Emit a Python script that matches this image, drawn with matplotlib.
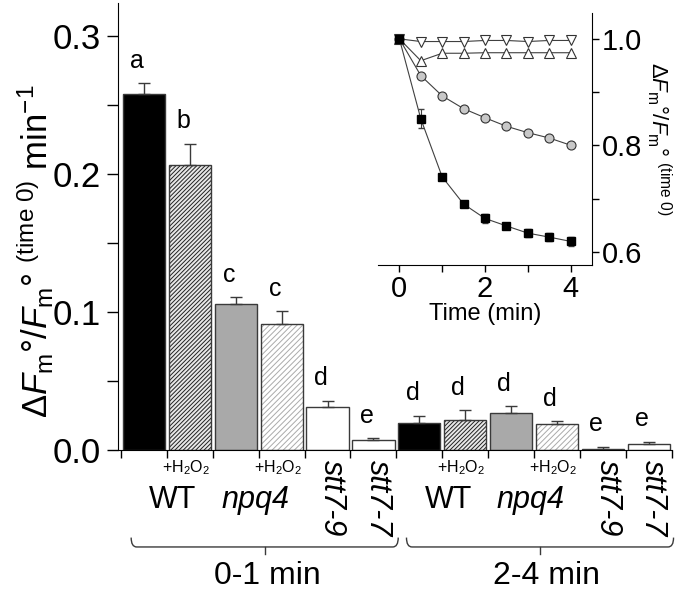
import matplotlib
matplotlib.use('Agg')
import matplotlib.pyplot as plt
from matplotlib.path import Path
from matplotlib.patches import PathPatch

plt.rcParams['font.family'] = ['Liberation Sans', 'DejaVu Sans']
plt.rcParams['mathtext.fontset'] = 'custom'
plt.rcParams['mathtext.rm'] = 'Liberation Sans'
plt.rcParams['mathtext.it'] = 'Liberation Sans:italic'
plt.rcParams['mathtext.bf'] = 'Liberation Sans:bold'
plt.rcParams['hatch.linewidth'] = 0.7

# main bars: 0-1 min group then 2-4 min group
rates = [0.258, 0.2065, 0.1058, 0.0915, 0.0312, 0.0072,
         0.0193, 0.0215, 0.0268, 0.0186, 0.0010, 0.0046]
rate_err = [0.008, 0.0155, 0.0048, 0.0092, 0.0045, 0.0012,
            0.0056, 0.0073, 0.0049, 0.0022, 0.0014, 0.0014]
letters = ['a', 'b', 'c', 'c', 'd', 'e', 'd', 'd', 'd', 'd', 'e', 'e']
strains = ['WT', 'npq4', 'stt7-9', 'stt7-7']
groups = ['0-1 min', '2-4 min']

# inset: relative change vs time
time = [0, 0.5, 1, 1.5, 2, 2.5, 3, 3.5, 4]
stt_down = [1.0, 0.995, 0.995, 0.995, 0.997, 0.997, 0.995, 0.997, 0.997]
stt_up = [1.0, 0.959, 0.973, 0.973, 0.974, 0.974, 0.974, 0.974, 0.974]
npq4_rel = [1.0, 0.931, 0.893, 0.869, 0.852, 0.836, 0.824, 0.814, 0.8005]
wt_rel = [1.0, 0.850, 0.741, 0.690, 0.663, 0.649, 0.6355, 0.628, 0.620]
wt_rel_err = [0.0, 0.018, 0.006, 0.005, 0.008, 0.006, 0.008, 0.008, 0.008]

fig = plt.figure(figsize=(6.75, 5.92), dpi=100)
ax = fig.add_axes([0.1748, 0.2399, 0.821, 0.755])

edge = '#3a3a3a'
styles = [('black', None, None), ('#e8e8e8', '////////', '#222222'),
          ('#a9a9a9', None, None), ('white', '//////', '#aaaaaa'),
          ('white', None, None), ('white', None, None)] * 2

for i, (v, e) in enumerate(zip(rates, rate_err)):
    face, hatch, hcol = styles[i]
    if hatch:
        ax.bar(i, v, width=0.92, color=face, hatch=hatch, edgecolor=hcol, lw=0)
        ax.bar(i, v, width=0.92, fill=False, edgecolor=edge, lw=1.0)
    else:
        ax.bar(i, v, width=0.92, color=face, edgecolor=edge, lw=1.0)
    ax.errorbar(i, v, yerr=[[0], [e]], fmt='none', ecolor=edge, elinewidth=1, capsize=4)
    ax.annotate(letters[i], (i - 0.15, v + e), xytext=(0, 11), textcoords='offset points',
                ha='center', va='baseline', fontsize=18)

ax.set_xlim(-0.567, 11.51)
ax.set_ylim(0, 0.324)
ax.spines['top'].set_visible(False)
ax.spines['right'].set_visible(False)
ax.set_yticks([0.0, 0.1, 0.2, 0.3])
ax.set_yticklabels(['0.0', '0.1', '0.2', '0.3'])
ax.set_yticks([0.05, 0.15, 0.25], minor=True)
ax.tick_params(axis='y', which='both', direction='out', length=8, width=1, labelsize=25, pad=4)
ax.set_xticks([i - 0.5 for i in range(13)])
ax.set_xticklabels([])
ax.tick_params(axis='x', direction='out', length=6, width=1)

xt = ax.get_xaxis_transform()
for g in range(2):
    off = 6 * g
    for j in (1, 3):
        ax.text(off + j - 0.09, -0.040, '+H$_2$O$_2$', transform=xt, ha='center', va='center',
                fontsize=11.5)
    ax.text(off + 0.63, -0.112, strains[0], transform=xt, ha='center', va='center', fontsize=22)
    ax.text(off + 2.42, -0.112, strains[1], transform=xt, ha='center', va='center', fontsize=22,
            style='italic')
    for j, s in ((4.1, strains[2]), (5.1, strains[3])):
        ax.text(off + j, -0.107, s, transform=xt, ha='center', va='center', fontsize=22,
                style='italic', rotation=270)
    # curly bracket under each group
    x0, x1 = off - 0.28, off + 5.54
    xm = (x0 + x1) / 2
    yl, ye, yt = -0.217, -0.196, -0.232
    r = 0.12
    verts = [(x0, ye), (x0, yl), (x0 + r, yl), (x1 - r, yl), (x1, yl), (x1, ye)]
    codes = [Path.MOVETO, Path.CURVE3, Path.CURVE3, Path.LINETO, Path.CURVE3, Path.CURVE3]
    ax.add_patch(PathPatch(Path(verts, codes), transform=xt, fill=False, lw=1.0,
                           edgecolor=edge, clip_on=False))
    ax.plot([xm, xm], [yl, yt], transform=xt, color=edge, lw=1.0, clip_on=False)
    ax.text(xm + 0.05 + 0.1 * g, -0.283, groups[g], transform=xt, ha='center', va='center',
            fontsize=23)

fig.text(0.052, 0.575,
         r'$\Delta F_{\rm m}$°/$F_{\rm m}$° $^{\rm (time\ 0)}$ min$^{-1}$',
         rotation=90, ha='center', va='center', fontsize=25)

# inset
axi = fig.add_axes([0.56, 0.5524, 0.317, 0.4257])
axi.patch.set_alpha(0)
line = '#404040'
axi.plot(time, stt_down, '-', color=line, lw=0.8, marker='v', ms=7, mfc='white', mec='#333333', mew=0.8)
axi.plot(time, stt_up, '-', color=line, lw=0.8, marker='^', ms=7, mfc='white', mec='#333333', mew=0.8)
axi.plot(time, npq4_rel, '-', color=line, lw=0.8, marker='o', ms=6.5, mfc='#c8c8c8', mec='#333333', mew=0.8)
axi.errorbar(time, wt_rel, yerr=wt_rel_err, fmt='-s', color=line, lw=0.8, ms=5.5, mfc='black',
             mec='black', ecolor=line, elinewidth=0.8, capsize=2.5)
axi.set_xlim(-0.5, 4.5)
axi.set_ylim(0.5757, 1.0486)
axi.spines['top'].set_visible(False)
axi.spines['left'].set_visible(False)
axi.yaxis.tick_right()
axi.yaxis.set_label_position('right')
axi.set_xticks([0, 2, 4])
axi.set_xticks([1, 3], minor=True)
axi.set_yticks([0.6, 0.8, 1.0])
axi.set_yticks([0.7, 0.9], minor=True)
axi.tick_params(which='both', direction='out', length=5, width=1, labelsize=21, pad=2)
axi.set_xlabel('Time (min)', fontsize=17, labelpad=0)
axi.set_ylabel(r'$\Delta F_{\rm m}$°/$F_{\rm m}$° $^{\rm (time\ 0)}$', fontsize=16,
               rotation=270, va='bottom', labelpad=2)

fig.savefig('out.png', dpi=100)
